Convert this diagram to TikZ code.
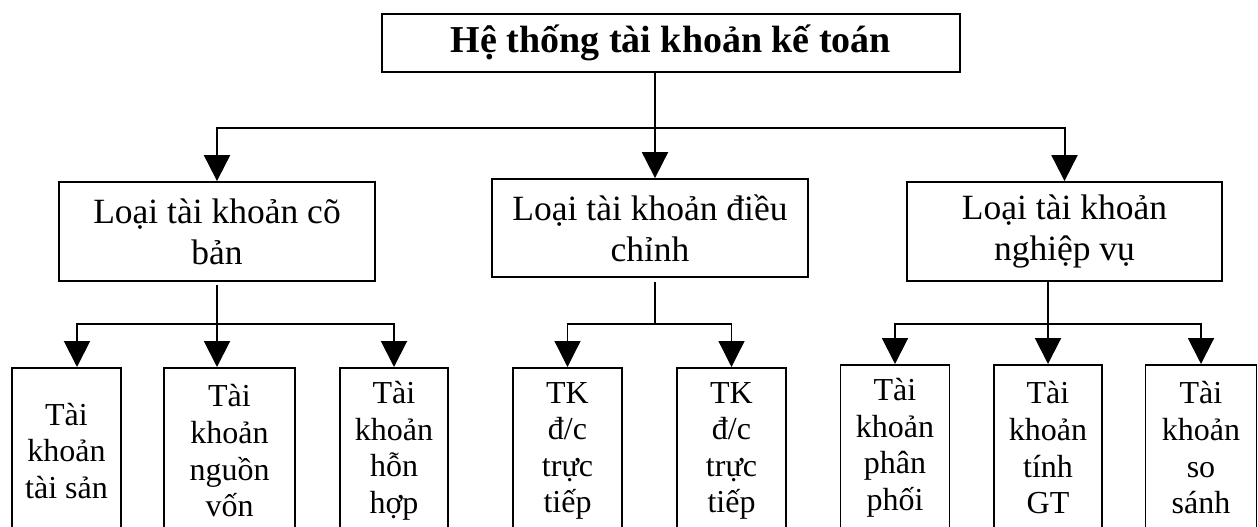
\documentclass[tikz,border=0pt]{standalone}
\usepackage{fontspec}
\setmainfont{Liberation Serif}
\usetikzlibrary{arrows.meta,calc}
\begin{document}
\begin{tikzpicture}[x=1pt,y=1pt,
  box/.style={draw, line width=1.8pt, inner sep=0pt, align=center},
  titlebox/.style={box, font=\fontsize{38}{44}\selectfont\bfseries},
  midbox/.style={box, minimum height=99pt, font=\fontsize{35.5}{40.8}\selectfont},
  leaf/.style={box, anchor=north, minimum height=166pt, font=\fontsize{32}{36.6}\selectfont},
  conn/.style={line width=2pt},
  thinconn/.style={line width=1.3pt},
  arr/.style={conn, -{Triangle[length=26pt,width=26pt]}},
  thinarr/.style={thinconn, -{Triangle[length=26pt,width=26pt]}}
]
\useasboundingbox (0,0) rectangle (1258,-527);
\clip (0,0) rectangle (1258,-527);

% top
\node[titlebox, minimum width=578pt, minimum height=58pt] (T) at (671,-43) {Hệ thống tài khoản kế toán};

% middle level
\node[midbox, minimum width=316pt] (M1) at (217,-231.5) {Loại tài khoản cõ\\bản};
\node[midbox, minimum width=316pt, minimum height=98pt] (M2) at (650,-228) {Loại tài khoản điều\\chỉnh};
\node[midbox, minimum width=315pt] (M3) at (1064.5,-231.5) {Loại tài khoản\\nghiệp vụ};

% bottom level
\node[leaf, minimum width=109pt] (B1) at (66.5,-367) {Tài\\khoản\\tài sản};
\node[leaf, minimum width=131pt] (B2) at (229.5,-367) {Tài\\khoản\\nguồn\\vốn};
\node[leaf, minimum width=108pt] (B3) at (394,-367) {Tài\\khoản\\hỗn\\hợp};
\node[leaf, minimum width=109pt] (B4) at (567.5,-367) {TK\\đ/c\\trực\\tiếp};
\node[leaf, minimum width=109pt] (B5) at (731.5,-367) {TK\\đ/c\\trực\\tiếp};
\node[leaf, minimum width=109pt] (B6) at (895,-364) {Tài\\khoản\\phân\\phối};
\node[leaf, minimum width=108.5pt] (B7) at (1048,-364) {Tài\\khoản\\tính\\GT};
\node[leaf, minimum width=111pt] (B8) at (1201,-364) {Tài\\khoản\\so\\sánh};

% top connectors
\coordinate (J0) at (655,-128);
\draw[arr] (T.south -| J0) -- (M2.north -| J0);
\draw[arr] (J0) -| (M1.north);
\draw[arr] (J0) -| (M3.north);

% left group
\coordinate (J1) at (217,-324);
\coordinate (B1t) at ($(B1.north)+(10.5,0)$);
\draw[arr, shorten <=3pt] (M1.south) -- (B2.north -| M1.south);
\draw[arr] (J1) -| (B1t);
\draw[arr] (J1) -| (B3.north);

% adjusting group
\coordinate (J2) at (655,-324);
\draw[thinconn, shorten <=4pt] (M2.south -| J2) -- (J2);
\draw[thinarr] (J2) -| (B4.north);
\draw[thinarr] (J2) -| (B5.north);

% business group
\coordinate (J3) at (1048,-324);
\draw[arr] (M3.south -| B7.north) -- (B7.north);
\draw[arr] (J3) -| (B6.north);
\draw[arr] (J3) -| (B8.north);
\end{tikzpicture}
\end{document}
